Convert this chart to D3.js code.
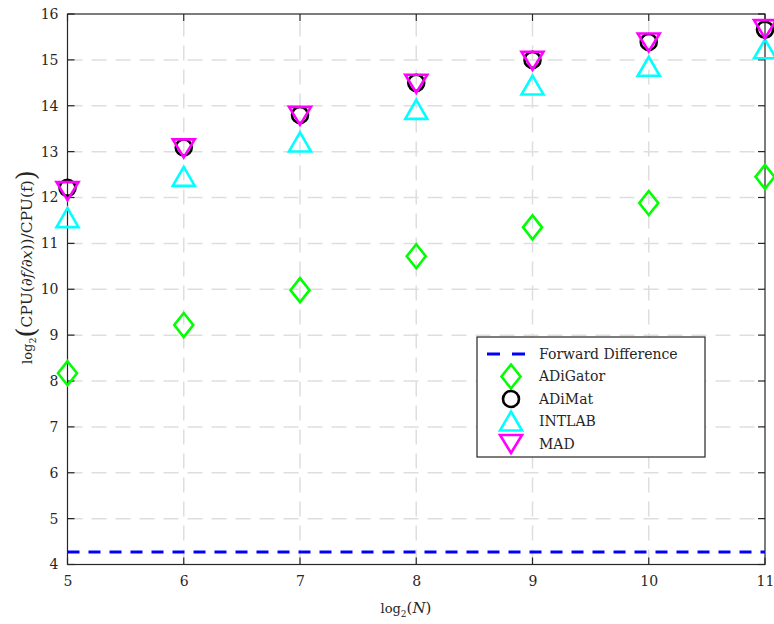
<!DOCTYPE html>
<html><head><meta charset="utf-8">
<script src="https://cdn.jsdelivr.net/npm/d3@7"></script>
<style>body{margin:0;background:#fff}svg{display:block}text{font-family:"DejaVu Serif",serif;fill:#262626}</style>
</head><body>
<svg id="c" width="774" height="624"></svg>
<script>
const xs = [5, 6, 7, 8, 9, 10, 11];
const forwardDiff = [4.27, 4.27];
const adigator = [8.17, 9.22, 9.98, 10.72, 11.35, 11.88, 12.45];
const adimat = [12.21, 13.09, 13.8, 14.5, 15.0, 15.39, 15.66];
const intlab = [11.55, 12.45, 13.2, 13.91, 14.44, 14.85, 15.23];
const mad = [12.14, 13.07, 13.78, 14.48, 14.98, 15.38, 15.67];
const xTicks = [5, 6, 7, 8, 9, 10, 11];
const yTicks = [4, 5, 6, 7, 8, 9, 10, 11, 12, 13, 14, 15, 16];
const legendNames = ["Forward Difference", "ADiGator", "ADiMat", "INTLAB", "MAD"];

const svg = d3.select("#c");
const L = 67.5, R = 765, T = 14, B = 564.5;
const x = d3.scaleLinear().domain([5, 11]).range([L, R]);
const y = d3.scaleLinear().domain([4, 16]).range([B, T]);

// grid
const g = svg.append("g");
g.selectAll(".gx").data(xTicks.slice(1, -1)).join("line")
  .attr("x1", d => x(d)).attr("x2", d => x(d)).attr("y1", B).attr("y2", T)
  .attr("stroke", "#dedede").attr("stroke-width", 1.5).attr("stroke-dasharray", "15,9");
g.selectAll(".gy").data(yTicks.slice(1, -1)).join("line")
  .attr("y1", d => y(d)).attr("y2", d => y(d)).attr("x1", L).attr("x2", R)
  .attr("stroke", "#dedede").attr("stroke-width", 1.5).attr("stroke-dasharray", "15,9");

// axes
const ax = d3.axisBottom(x).tickValues(xTicks).tickSize(0).tickPadding(12).tickFormat(d3.format("d"));
const ay = d3.axisLeft(y).tickValues(yTicks).tickSize(0).tickPadding(9).tickFormat(d3.format("d"));
const gx = svg.append("g").attr("transform", `translate(0,${B})`).call(ax);
const gy = svg.append("g").attr("transform", `translate(${L},0)`).call(ay);
[gx, gy].forEach(a => { a.select(".domain").remove(); a.selectAll("text").attr("font-size", 14).attr("fill", "#262626").attr("font-family", "DejaVu Serif"); });

// inward ticks on all sides
const tk = svg.append("g").attr("stroke", "#262626").attr("stroke-width", 1.2);
xTicks.forEach(d => {
  tk.append("line").attr("x1", x(d)).attr("x2", x(d)).attr("y1", B).attr("y2", B - 7);
  tk.append("line").attr("x1", x(d)).attr("x2", x(d)).attr("y1", T).attr("y2", T + 7);
});
yTicks.forEach(d => {
  tk.append("line").attr("y1", y(d)).attr("y2", y(d)).attr("x1", L).attr("x2", L + 7);
  tk.append("line").attr("y1", y(d)).attr("y2", y(d)).attr("x1", R).attr("x2", R - 7);
});
svg.append("rect").attr("x", L).attr("y", T).attr("width", R - L).attr("height", B - T)
  .attr("fill", "none").attr("stroke", "#262626").attr("stroke-width", 1.2);

// forward difference line
svg.append("line").attr("x1", x(5)).attr("x2", x(11))
  .attr("y1", y(forwardDiff[0])).attr("y2", y(forwardDiff[1]))
  .attr("stroke", "#0000ff").attr("stroke-width", 3).attr("stroke-dasharray", "12,9");

// marker shapes
const shapes = {
  diamond: "M0,-12L9.5,0L0,12L-9.5,0Z",
  circle: "M8,0A8,8 0 1,1 -8,0A8,8 0 1,1 8,0Z",
  tri: "M0,-10L11,9L-11,9Z",
  tridown: "M0,9L11,-9L-11,-9Z"
};
const series = [
  { v: adigator, color: "#00ff00", shape: "diamond" },
  { v: adimat, color: "#000000", shape: "circle" },
  { v: intlab, color: "#00ffff", shape: "tri" },
  { v: mad, color: "#ff00ff", shape: "tridown" }
];
series.forEach(s => {
  svg.append("g").selectAll("path").data(s.v).join("path")
    .attr("d", shapes[s.shape])
    .attr("transform", (d, i) => `translate(${x(xs[i])},${y(d)})`)
    .attr("fill", "none").attr("stroke", s.color).attr("stroke-width", 2.6);
});

// legend
const lg = svg.append("g");
lg.append("rect").attr("x", 477).attr("y", 337).attr("width", 228).attr("height", 120)
  .attr("fill", "#fff").attr("stroke", "#262626").attr("stroke-width", 1.2);
const rowY = i => 354 + i * 22.5;
lg.append("line").attr("x1", 487).attr("x2", 525).attr("y1", rowY(0)).attr("y2", rowY(0))
  .attr("stroke", "#0000ff").attr("stroke-width", 3).attr("stroke-dasharray", "13,12");
series.forEach((s, i) => {
  lg.append("path").attr("d", shapes[s.shape]).attr("transform", `translate(511,${rowY(i + 1)})`)
    .attr("fill", "none").attr("stroke", s.color).attr("stroke-width", 2.6);
});
legendNames.forEach((n, i) => {
  lg.append("text").attr("x", 539).attr("y", rowY(i)).attr("dy", "0.35em").attr("font-size", 14).text(n);
});

// x label
const xl = svg.append("text").attr("x", 406).attr("y", 613).attr("text-anchor", "middle").attr("font-size", 15).attr("fill", "#262626");
xl.append("tspan").attr("font-size", 13).text("log");
xl.append("tspan").attr("font-size", 9).attr("dy", 4).text("2");
xl.append("tspan").attr("dy", -4).text("(");
xl.append("tspan").attr("font-style", "italic").text("N");
xl.append("tspan").text(")");

// y label
const yl = svg.append("text").attr("transform", "translate(32,267) rotate(-90)").attr("text-anchor", "middle").attr("font-size", 15.5);
yl.append("tspan").attr("font-size", 13).text("log");
yl.append("tspan").attr("font-size", 9.5).attr("dy", 4).text("2");
yl.append("tspan").attr("dy", -1).attr("font-size", 26).attr("font-weight", "200").text("(");
yl.append("tspan").attr("dy", -3).attr("font-size", 15.5).text("CPU(");
yl.append("tspan").attr("font-style", "italic").text("∂f/∂x");
yl.append("tspan").text("))/CPU(f)");
yl.append("tspan").attr("dy", 3).attr("font-size", 26).attr("font-weight", "200").text(")");
</script>
</body></html>
